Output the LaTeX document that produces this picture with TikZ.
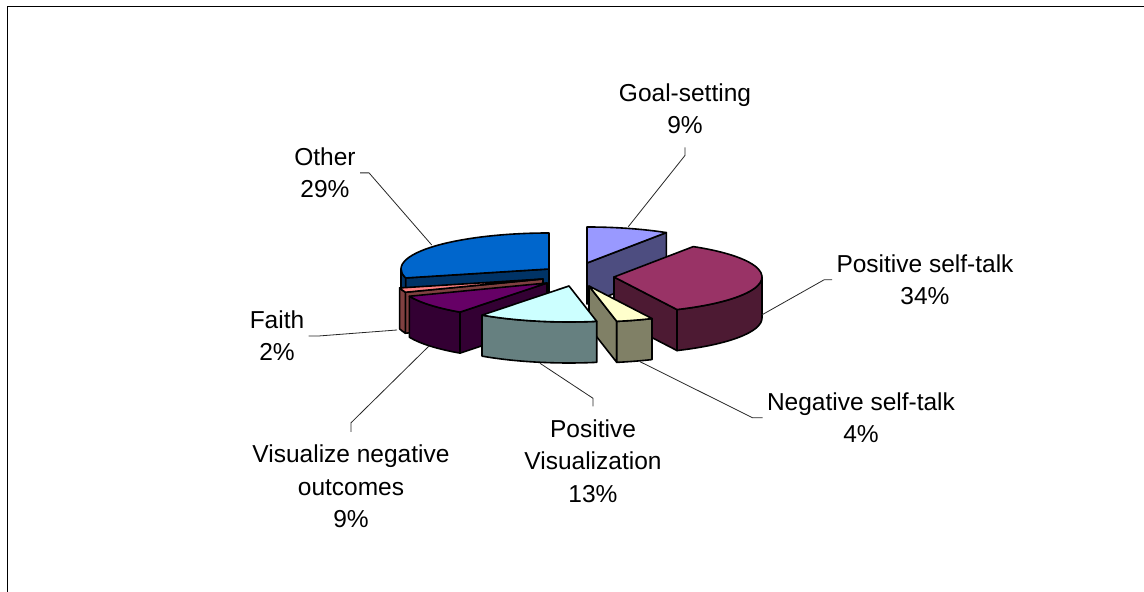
\documentclass[tikz,border=0pt]{standalone}
\usepackage{fontspec}
\setmainfont{Liberation Sans}
\usetikzlibrary{calc}

\definecolor{goaltop}{HTML}{9999FF}
\definecolor{goalside}{HTML}{4D4D80}
\definecolor{psttop}{HTML}{993366}
\definecolor{pstside}{HTML}{4D1A33}
\definecolor{nsttop}{HTML}{FFFFCC}
\definecolor{nstside}{HTML}{808066}
\definecolor{pvtop}{HTML}{CCFFFF}
\definecolor{pvside}{HTML}{668080}
\definecolor{vnotop}{HTML}{660066}
\definecolor{vnoside}{HTML}{330033}
\definecolor{faithtop}{HTML}{FF8080}
\definecolor{faithside}{HTML}{804040}
\definecolor{othertop}{HTML}{0066CC}
\definecolor{otherside}{HTML}{003366}

\begin{document}
\begin{tikzpicture}[x=0.5pt,y=0.5pt,
  pie/.style={draw=black,line width=0.8pt,line join=round,x radius=148,y radius=36},
  lbl/.style={font=\fontsize{12.25}{16.15}\selectfont,align=center,inner xsep=2pt,inner ysep=6.5pt},
  leader/.style={draw=black!85,line width=0.4pt}]
  \useasboundingbox (0,0) rectangle (1144,592);
  \draw[line width=0.65pt] (7.7,0) -- (7.7,585.7) -- (1144,585.7); %

  % Goal-setting
  \filldraw[pie,fill=goalside] (587,329) -- ++(57.6:148 and 36) -- ++(0,-41) -- (587,288) -- cycle;
  \filldraw[pie,fill=goaltop] (587,329) -- ++(90:148 and 36) arc[start angle=90,end angle=57.6] -- cycle;
  % Other
  \filldraw[pie,fill=otherside] (549,323) -- ++(-165.6:148 and 36) -- ++(0,-41) -- (549,282) -- cycle;
  \filldraw[pie,fill=otherside] (549,323) ++(-165.6:148 and 36) arc[start angle=-165.6,end angle=-180] -- ++(0,-41) arc[start angle=-180,end angle=-165.6] -- cycle;
  \filldraw[pie,fill=othertop] (549,323) -- ++(-165.6:148 and 36) arc[start angle=-165.6,end angle=-270] -- cycle;
  % Positive self-talk
  \filldraw[pie,fill=pstside] (614,315) -- ++(-64.8:148 and 36) -- ++(0,-41) -- (614,274) -- cycle;
  \filldraw[pie,fill=pstside] (614,315) ++(0:148 and 36) arc[start angle=0,end angle=-64.8] -- ++(0,-41) arc[start angle=-64.8,end angle=0] -- cycle;
  \filldraw[pie,fill=psttop] (614,315) -- ++(57.6:148 and 36) arc[start angle=57.6,end angle=-64.8] -- cycle;
  % Faith
  \filldraw[pie,fill=faithside] (543,313) -- ++(-158.4:148 and 36) -- ++(0,-41) -- (543,272) -- cycle;
  \filldraw[pie,fill=faithside] (543,313) ++(-158.4:148 and 36) arc[start angle=-158.4,end angle=-165.6] -- ++(0,-41) arc[start angle=-165.6,end angle=-158.4] -- cycle;
  \filldraw[pie,fill=faithtop] (543,313) -- ++(-158.4:148 and 36) arc[start angle=-158.4,end angle=-165.6] -- cycle;
  % Visualize negative outcomes
  \filldraw[pie,fill=vnoside] (547,309) -- ++(-126:148 and 36) -- ++(0,-41) -- (547,268) -- cycle;
  \filldraw[pie,fill=vnoside] (547,309) ++(-126:148 and 36) arc[start angle=-126,end angle=-158.4] -- ++(0,-41) arc[start angle=-158.4,end angle=-126] -- cycle;
  \filldraw[pie,fill=vnotop] (547,309) -- ++(-126:148 and 36) arc[start angle=-126,end angle=-158.4] -- cycle;
  % Negative self-talk
  \filldraw[pie,fill=nstside] (589,306) -- ++(-79.2:148 and 36) -- ++(0,-41) -- (589,265) -- cycle;
  \filldraw[pie,fill=nstside] (589,306) ++(-64.8:148 and 36) arc[start angle=-64.8,end angle=-79.2] -- ++(0,-41) arc[start angle=-79.2,end angle=-64.8] -- cycle;
  \filldraw[pie,fill=nsttop] (589,306) -- ++(-64.8:148 and 36) arc[start angle=-64.8,end angle=-79.2] -- cycle;
  % Positive Visualization
  \filldraw[pie,fill=pvside] (569,306) ++(-79.2:148 and 36) arc[start angle=-79.2,end angle=-126] -- ++(0,-41) arc[start angle=-126,end angle=-79.2] -- cycle;
  \filldraw[pie,fill=pvtop] (569,306) -- ++(-79.2:148 and 36) arc[start angle=-79.2,end angle=-126] -- cycle;

  % labels
  \node[lbl] (goal) at (685,483.1) {Goal-setting\\9\%};
  \node[lbl] (other) at (325,419.1) {Other\\29\%};
  \node[lbl] (pst) at (925,312.2) {Positive self-talk\\34\%};
  \node[lbl] (faith) at (277,256) {Faith\\2\%};
  \node[lbl] (nst) at (861,174.2) {Negative self-talk\\4\%};
  \node[lbl] (pv) at (593,131) {Positive\\Visualization\\13\%};
  \node[lbl] (vno) at (351,105.5) {Visualize negative\\outcomes\\9\%};

  \coordinate (goal-tip) at (628.3,365.3);
  \coordinate (other-tip) at (431.7,347);
  \coordinate (pst-tip) at (761.7,277);
  \coordinate (faith-tip) at (397,262);
  \coordinate (nst-tip) at (640,230.3);
  \coordinate (pv-tip) at (540,228.7);
  \coordinate (vno-tip) at (429,246);

  \draw[leader] (goal.south) -- ++(0,-8) -- (goal-tip);
  \draw[leader] (other.east) -- ++(9,0) -- (other-tip);
  \draw[leader] (pst.west) -- ++(-8,0) -- (pst-tip);
  \draw[leader] (faith.east) -- ++(10,0) -- (faith-tip);
  \draw[leader] (nst.west) -- ++(-10,0) -- (nst-tip);
  \draw[leader] (pv.north) -- ++(0,8) -- (pv-tip);
  \draw[leader] (vno.north) -- ++(0,9) -- (vno-tip);
\end{tikzpicture}
\end{document}
